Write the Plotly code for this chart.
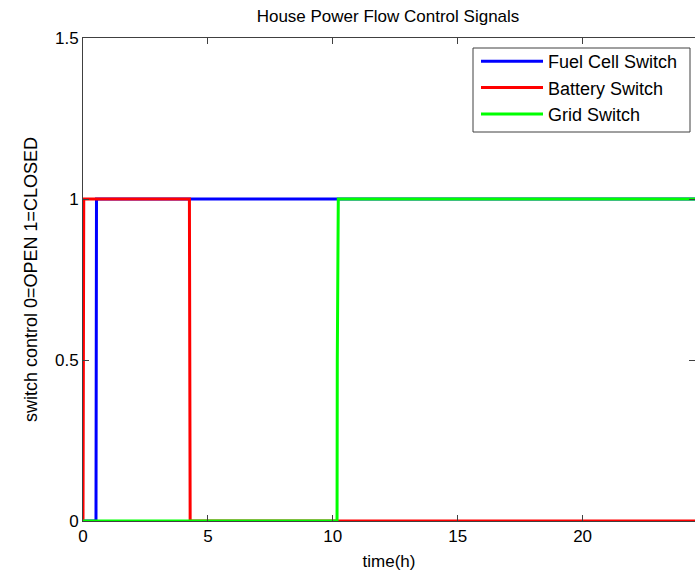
import plotly.graph_objects as go

# Data (time in hours, switch state 0=open, 1=closed)
fuel_t = [0.0, 0.52, 0.54, 24.6]
fuel_v = [0, 0, 1, 1]

batt_t = [0.0, 0.03, 4.26, 4.27, 4.29, 24.6]
batt_v = [0, 1, 1, 0.5, 0, 0]

grid_t = [0.0, 10.17, 10.18, 10.22, 24.6]
grid_v = [0, 0, 0.5, 1, 1]

x_ticks = [0, 5, 10, 15, 20]
y_ticks = [0, 0.5, 1, 1.5]

FONT = "Liberation Sans, Arial, sans-serif"

fig = go.Figure()
fig.add_trace(go.Scatter(x=fuel_t, y=fuel_v, mode="lines", name="Fuel Cell Switch",
                         line=dict(color="#0000FF", width=3)))
fig.add_trace(go.Scatter(x=batt_t, y=batt_v, mode="lines", name="Battery Switch",
                         line=dict(color="#FF0000", width=3)))
fig.add_trace(go.Scatter(x=grid_t, y=grid_v, mode="lines", name="Grid Switch",
                         line=dict(color="#00FF00", width=3)))

axis_common = dict(showgrid=False, zeroline=False, showline=True, linecolor="#404040",
                   linewidth=1, ticks="inside", ticklen=6, tickcolor="#404040",
                   mirror="ticks", tickfont=dict(family=FONT, size=17, color="#000000"))

W, H = 695, 573
L, T, B, R = 83, 38, 52, 0
PW, PH = W - L - R, H - T - B

# legend frame (pixel box of the legend area)
LX0, LX1, LY0, LY1 = 473, 690, 48, 132

fig.update_layout(
    width=W, height=H,
    margin=dict(l=L, r=R, t=T, b=B),
    paper_bgcolor="white", plot_bgcolor="white",
    title=dict(text="House Power Flow Control Signals", x=388 / W, xanchor="center",
               y=1 - 16 / H, yanchor="middle",
               font=dict(family=FONT, size=17, color="#000000")),
    xaxis=dict(range=[0, 24.5], tickvals=x_ticks,
               title=dict(text="time(h)", standoff=9, font=dict(family=FONT, size=17, color="#000")),
               **axis_common),
    yaxis=dict(range=[0, 1.5], tickvals=y_ticks,
               title=dict(text="switch control 0=OPEN 1=CLOSED", standoff=12,
                          font=dict(family=FONT, size=18, color="#000")),
               **axis_common),
    legend=dict(x=(476 - L) / PW, y=1 - (43 - T) / PH, xanchor="left", yanchor="top",
                bgcolor="rgba(0,0,0,0)", borderwidth=0,
                font=dict(family=FONT, size=18, color="#000"),
                itemwidth=62, tracegroupgap=0),
    shapes=[dict(type="rect", xref="paper", yref="paper", layer="above",
                 x0=(LX0 - L) / PW, x1=(LX1 - L) / PW,
                 y0=1 - (LY1 - T) / PH, y1=1 - (LY0 - T) / PH,
                 line=dict(color="#404040", width=1), fillcolor="white")],
    showlegend=True,
)

fig.write_html("out.html", config={"displayModeBar": False},
               post_script="document.body.style.margin='0';")
